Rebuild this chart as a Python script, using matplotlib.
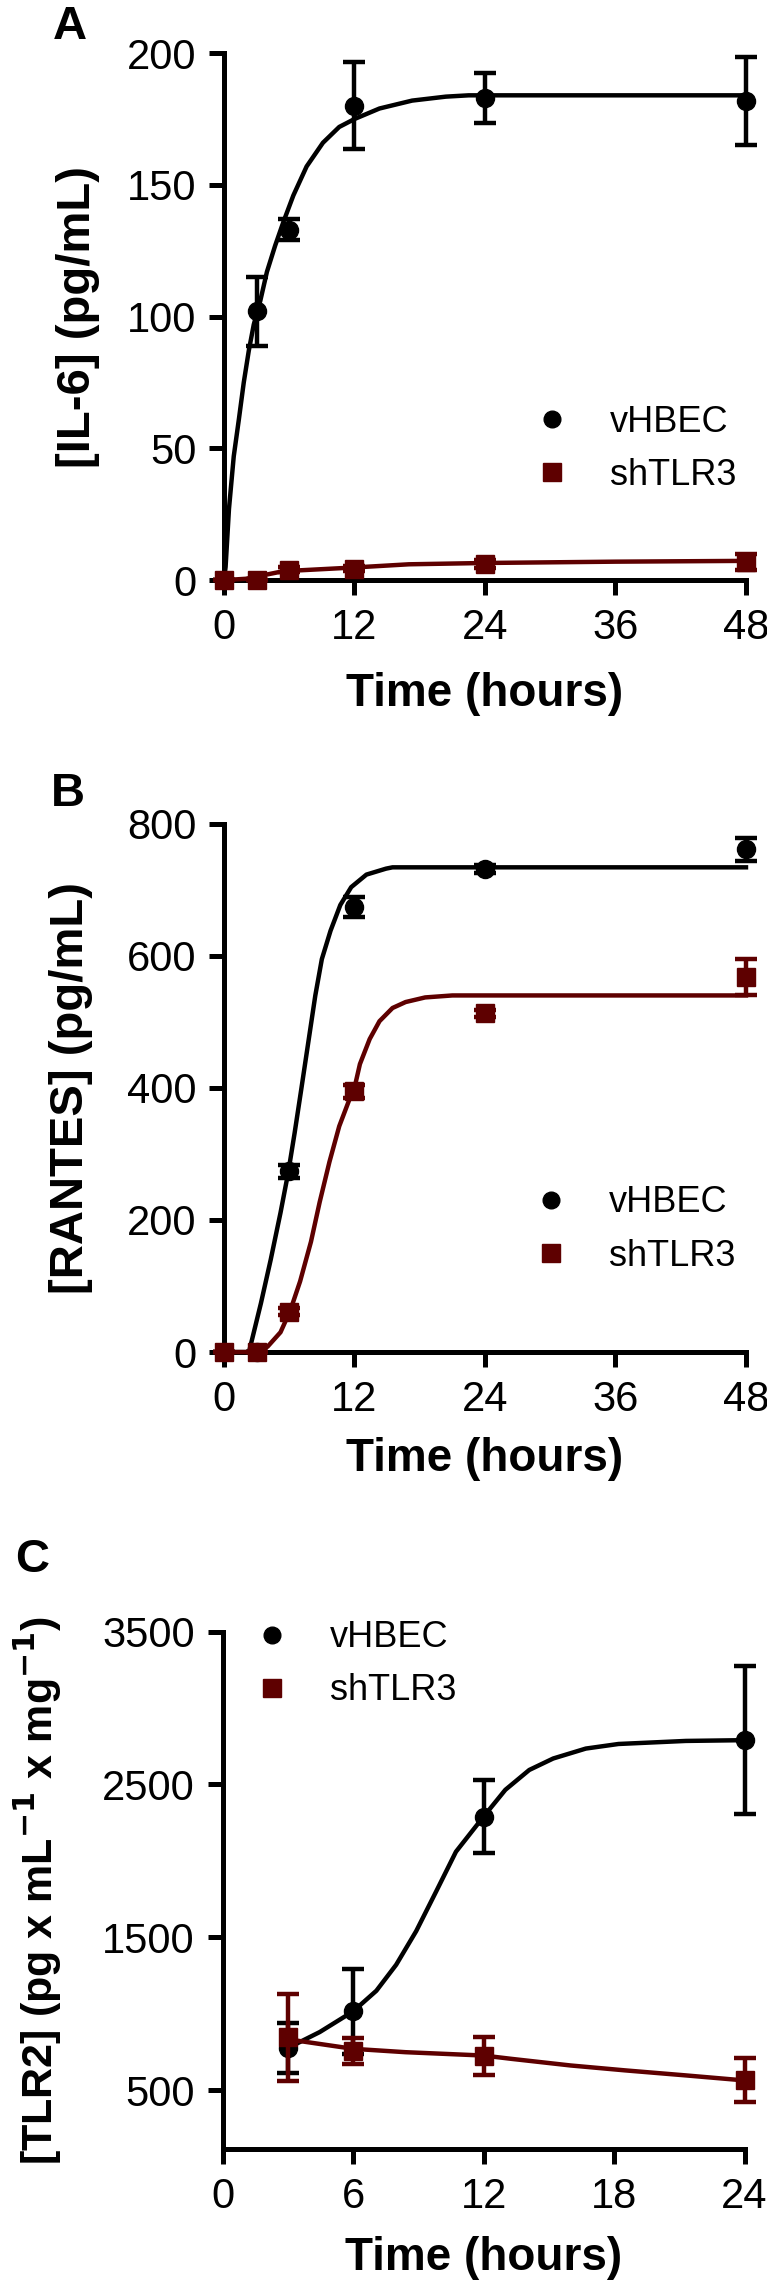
import matplotlib
matplotlib.use('Agg')
import matplotlib.pyplot as plt
from matplotlib.lines import Line2D

plt.rcParams['font.family'] = ['Liberation Sans', 'DejaVu Sans']

BLACK = '#000000'
RED = '#5e0000'

# --- Panel A: IL-6 ---
il6_time = [0, 3, 6, 12, 24, 48]
il6_vhbec = [0, 102, 133, 180, 183, 182]
il6_vhbec_err = [0, 13, 4, 16.5, 9.5, 16.7]
il6_sh = [0, 0, 4, 4.3, 6, 7]
il6_sh_err = [0, 0, 1, 1, 1.5, 3]
# fitted curves
il6_fit_t = [0, 0.15, 0.46, 0.9, 1.37, 1.82, 2.28, 2.74, 3.34, 3.95, 4.71, 5.47, 6.38, 7.6,
             9.1, 10.6, 12, 14.3, 17.3, 20.4, 22.5, 30, 48]
il6_fit_vhbec = [0, 5, 27, 47, 61, 75, 87, 97, 106, 117, 127, 136, 146, 157,
                 166, 172, 175, 179, 182, 183.5, 184, 184, 184]
il6_fit_sh_t = [0, 2, 5, 6, 12, 17, 24, 36, 48]
il6_fit_sh = [0, 0.5, 3, 3.5, 4.8, 6, 6.5, 7, 7.3]

# --- Panel B: RANTES ---
rantes_time = [0, 3, 6, 12, 24, 48]
rantes_vhbec = [0, 0, 274, 674, 732, 761]
rantes_vhbec_err = [0, 0, 10, 15, 6, 17]
rantes_sh = [0, 0, 61, 395, 513, 568]
rantes_sh_err = [0, 0, 5, 10, 5, 27]
rantes_fit_t = [0, 2.3, 3.4, 4.3, 5.2, 5.9, 6.5, 7.1, 7.8, 8.4, 9.0, 9.8, 10.7, 11.7,
                13.1, 14.9, 15.5, 24, 48]
rantes_fit_vhbec = [0, 0, 74, 140, 211, 271, 332, 397, 474, 540, 595, 638, 677, 704,
                    723, 732, 734, 734, 734]
rantes_fit_sh_t = [0, 2.6, 4.0, 5.2, 6.1, 7.0, 8.0, 8.8, 9.7, 10.6, 11.5, 12.0, 12.5, 13.4,
                   14.3, 15.5, 16.7, 18.5, 21, 24, 48]
rantes_fit_sh = [0, 0, 8, 30, 63, 107, 167, 227, 288, 342, 381, 400, 436, 474,
                 501, 521, 530, 537, 540, 540, 540]

# --- Panel C: TLR2 ---
tlr2_time = [3, 6, 12, 24]
tlr2_vhbec = [775, 1015, 2290, 2790]
tlr2_vhbec_err = [165, 280, 240, 485]
tlr2_sh = [845, 755, 725, 565]
tlr2_sh_err = [285, 87, 125, 145]
tlr2_fit_t = [3, 4.47, 6, 7.07, 7.98, 8.9, 9.82, 10.73, 12, 13, 14.1, 15.2, 16.7, 18.2, 21.3, 24]
tlr2_fit_vhbec = [775, 880, 1015, 1150, 1320, 1540, 1800, 2060, 2290, 2465, 2595, 2670, 2735,
                  2765, 2785, 2790]
tlr2_fit_sh_t = [3, 3.4, 6, 8.4, 12, 13.3, 16, 18.5, 21.3, 24]
tlr2_fit_sh = [845, 824, 770, 748, 726, 704, 661, 629, 596, 563]

labels = ['vHBEC', 'shTLR3']


def draw_series(ax, t, v, err, fit_t, fit_v, color, marker, ms, z):
    ax.plot(fit_t, fit_v, color=color, lw=3.2, clip_on=False, zorder=z,
            solid_joinstyle='round')
    eb = ax.errorbar(t, v, yerr=err, fmt=marker, color=color, ms=ms,
                     capsize=8, elinewidth=3.2, capthick=3.2, zorder=z + 1)
    for art in eb.get_children():
        art.set_clip_on(False)


def style_axes(ax, xticks, yticks, xlim, ylim, ylabel, xlabel_y, ylabel_x):
    ax.set_xlim(xlim)
    ax.set_ylim(ylim)
    ax.set_xticks(xticks)
    ax.set_yticks(yticks)
    for s in ['top', 'right']:
        ax.spines[s].set_visible(False)
    for s in ['left', 'bottom']:
        ax.spines[s].set_linewidth(3.6)
    ax.tick_params(direction='out', length=11, width=3.6, pad=9, labelsize=30)
    ax.set_xlabel('Time (hours)', fontsize=33, fontweight='bold', va='top')
    ax.set_ylabel(ylabel, fontsize=34, fontweight='bold')
    ax.xaxis.set_label_coords(0.5, xlabel_y)
    ax.yaxis.set_label_coords(ylabel_x, 0.5)


def add_legend(ax, anchor):
    handles = [Line2D([], [], marker='o', ls='none', color=BLACK, ms=12),
               Line2D([], [], marker='s', ls='none', color=RED, ms=13)]
    ax.legend(handles, labels, loc='center left', bbox_to_anchor=anchor,
              frameon=False, fontsize=26, handlelength=1.0, handletextpad=1.1,
              labelspacing=0.5, borderpad=0, borderaxespad=0, numpoints=1)


fig = plt.figure(figsize=(7.67, 22.92), dpi=100)

axA = fig.add_axes([0.292, 0.7469, 0.6806, 0.2299])
draw_series(axA, il6_time, il6_vhbec, il6_vhbec_err, il6_fit_t, il6_fit_vhbec, BLACK, 'o', 13, 3)
draw_series(axA, il6_time, il6_sh, il6_sh_err, il6_fit_sh_t, il6_fit_sh, RED, 's', 13, 5)
style_axes(axA, [0, 12, 24, 36, 48], [0, 50, 100, 150, 200], (0, 48), (0, 200),
           '[IL-6] (pg/mL)', -0.175, -0.2375)
add_legend(axA, (0.594, 0.2495))

axB = fig.add_axes([0.292, 0.4101, 0.6806, 0.2305])
draw_series(axB, rantes_time, rantes_vhbec, rantes_vhbec_err, rantes_fit_t, rantes_fit_vhbec, BLACK, 'o', 13, 3)
draw_series(axB, rantes_time, rantes_sh, rantes_sh_err, rantes_fit_sh_t, rantes_fit_sh, RED, 's', 13, 5)
style_axes(axB, [0, 12, 24, 36, 48], [0, 200, 400, 600, 800], (0, 48), (0, 800),
           '[RANTES] (pg/mL)', -0.161, -0.251)
add_legend(axB, (0.592, 0.232))

axC = fig.add_axes([0.2902, 0.0625, 0.6806, 0.2256])
draw_series(axC, tlr2_time, tlr2_vhbec, tlr2_vhbec_err, tlr2_fit_t, tlr2_fit_vhbec, BLACK, 'o', 13, 3)
draw_series(axC, tlr2_time, tlr2_sh, tlr2_sh_err, tlr2_fit_sh_t, tlr2_fit_sh, RED, 's', 13, 5)
style_axes(axC, [0, 6, 12, 18, 24], [500, 1500, 2500, 3500], (0, 24), (116, 3500),
           r'[TLR2] (pg x mL$^{\mathbf{-1}}$ x mg$^{\mathbf{-1}}$)', -0.169, -0.304)
axC.yaxis.label.set_fontsize(31)
add_legend(axC, (0.06, 0.937))

for letter, x, y in [('A', 53, 5), ('B', 51, 772), ('C', 15, 1538)]:
    fig.text(x / 767, 1 - y / 2292, letter, fontsize=34, fontweight='bold',
             ha='left', va='top')

fig.savefig('out.png', dpi=100)
